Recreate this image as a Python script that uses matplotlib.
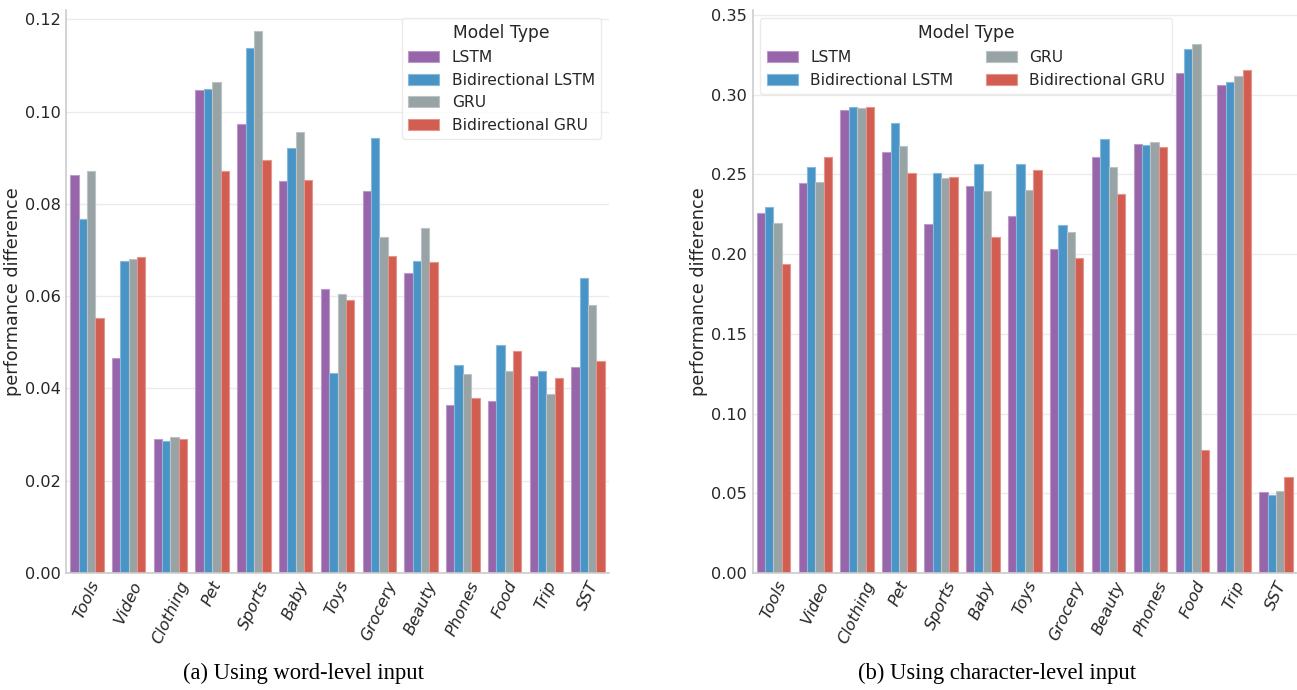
import colorsys
import numpy as np
import matplotlib
matplotlib.use('Agg')
import matplotlib.pyplot as plt
import matplotlib.colors as mcolors

#-----------------------------------------------------#

categories = ['Tools', 'Video', 'Clothing', 'Pet', 'Sports', 'Baby', 'Toys',
              'Grocery', 'Beauty', 'Phones', 'Food', 'Trip', 'SST']
models = ['LSTM', 'Bidirectional LSTM', 'GRU', 'Bidirectional GRU']

# (a) word-level input
word_lstm    = [0.0863, 0.0465, 0.0290, 0.1047, 0.0973, 0.0850, 0.0615, 0.0828, 0.0651, 0.0364, 0.0373, 0.0427, 0.0447]
word_bilstm  = [0.0767, 0.0676, 0.0286, 0.1049, 0.1137, 0.0921, 0.0433, 0.0943, 0.0676, 0.0451, 0.0494, 0.0438, 0.0640]
word_gru     = [0.0871, 0.0681, 0.0295, 0.1064, 0.1175, 0.0956, 0.0605, 0.0729, 0.0748, 0.0431, 0.0438, 0.0388, 0.0581]
word_bigru   = [0.0552, 0.0685, 0.0290, 0.0871, 0.0895, 0.0852, 0.0592, 0.0687, 0.0674, 0.0380, 0.0481, 0.0423, 0.0460]

# (b) character-level input
char_lstm    = [0.2258, 0.2447, 0.2901, 0.2643, 0.2189, 0.2426, 0.2239, 0.2032, 0.2611, 0.2693, 0.3134, 0.3059, 0.0508]
char_bilstm  = [0.2294, 0.2548, 0.2924, 0.2824, 0.2511, 0.2565, 0.2565, 0.2181, 0.2725, 0.2687, 0.3286, 0.3078, 0.0490]
char_gru     = [0.2193, 0.2452, 0.2918, 0.2681, 0.2479, 0.2397, 0.2401, 0.2139, 0.2548, 0.2700, 0.3317, 0.3116, 0.0515]
char_bigru   = [0.1935, 0.2611, 0.2924, 0.2508, 0.2485, 0.2107, 0.2529, 0.1975, 0.2378, 0.2674, 0.0771, 0.3153, 0.0602]

captions = ['(a) Using word-level input', '(b) Using character-level input']

#-----------------------------------------------------#

flatui = ['#9b59b6', '#3498db', '#95a5a6', '#e74c3c']

def desaturate(c, prop=0.75):
    r, g, b = mcolors.to_rgb(c)
    h, l, s = colorsys.rgb_to_hls(r, g, b)
    return colorsys.hls_to_rgb(h, l, s * prop)

def lighten(c, amt=0.35):
    r, g, b = c
    return (r + (1 - r) * amt, g + (1 - g) * amt, b + (1 - b) * amt)

colors = [desaturate(c) for c in flatui]
text_col = '#262626'

plt.rcParams['font.family'] = 'DejaVu Sans'
plt.rcParams['text.color'] = text_col
plt.rcParams['axes.labelcolor'] = text_col
plt.rcParams['xtick.color'] = text_col
plt.rcParams['ytick.color'] = text_col

fig = plt.figure(figsize=(12.97, 6.90), dpi=100)
W, H = 1297, 690

def frac(x0, x1, ytop, ybot):
    return [x0 / W, 1 - ybot / H, (x1 - x0) / W, (ybot - ytop) / H]

ax1 = fig.add_axes(frac(66, 609, 10, 573))
ax2 = fig.add_axes(frac(752.5, 1297, 10, 573))

def draw(ax, series, ylim, yticks, ncol, loc):
    x = np.arange(len(categories))
    bw = 0.2
    for i, (vals, name) in enumerate(zip(series, models)):
        ax.bar(x - 0.4 + bw * (i + 0.5), vals, width=bw, color=colors[i],
               edgecolor=lighten(colors[i]), linewidth=0.8, label=name, zorder=2)
    ax.set_xlim(-0.5, len(categories) - 0.5)
    ax.set_ylim(*ylim)
    ax.set_yticks(yticks)
    ax.set_yticklabels(['%.2f' % t for t in yticks], fontsize=11.6)
    ax.set_xticks(x)
    ax.set_xticklabels(categories, rotation=65, fontsize=11.6, style='italic', ha='center')
    ax.tick_params(axis='both', length=0, pad=4)
    ax.grid(axis='y', color='#ebebeb', linewidth=1, zorder=0)
    ax.set_axisbelow(True)
    for s in ['top', 'right']:
        ax.spines[s].set_visible(False)
    for s in ['left', 'bottom']:
        ax.spines[s].set_color('#cccccc')
        ax.spines[s].set_linewidth(1.2)
    ax.set_ylabel('performance difference', fontsize=12.7)
    ax.yaxis.set_label_coords(-0.081, 0.5)
    leg = ax.legend(title='Model Type', ncol=ncol, loc=loc, fontsize=11.2,
                    title_fontsize=12.3, frameon=True, fancybox=True,
                    columnspacing=2.1)
    leg.get_frame().set_edgecolor('#e6e6e6')
    leg.get_frame().set_linewidth(1.0)

draw(ax1, [word_lstm, word_bilstm, word_gru, word_bigru],
     (0, 0.1220), np.arange(0, 0.1201, 0.02), 1, 'upper right')
draw(ax2, [char_lstm, char_bilstm, char_gru, char_bigru],
     (0, 0.3531), np.arange(0, 0.3501, 0.05), 2, 'upper left')

fig.text(303.5 / W, 1 - 673 / H, captions[0], family='Liberation Serif',
         fontsize=16.3, ha='center', va='center', color='black')
fig.text(997 / W, 1 - 673 / H, captions[1], family='Liberation Serif',
         fontsize=16.3, ha='center', va='center', color='black')

fig.savefig('out.png', dpi=100)
